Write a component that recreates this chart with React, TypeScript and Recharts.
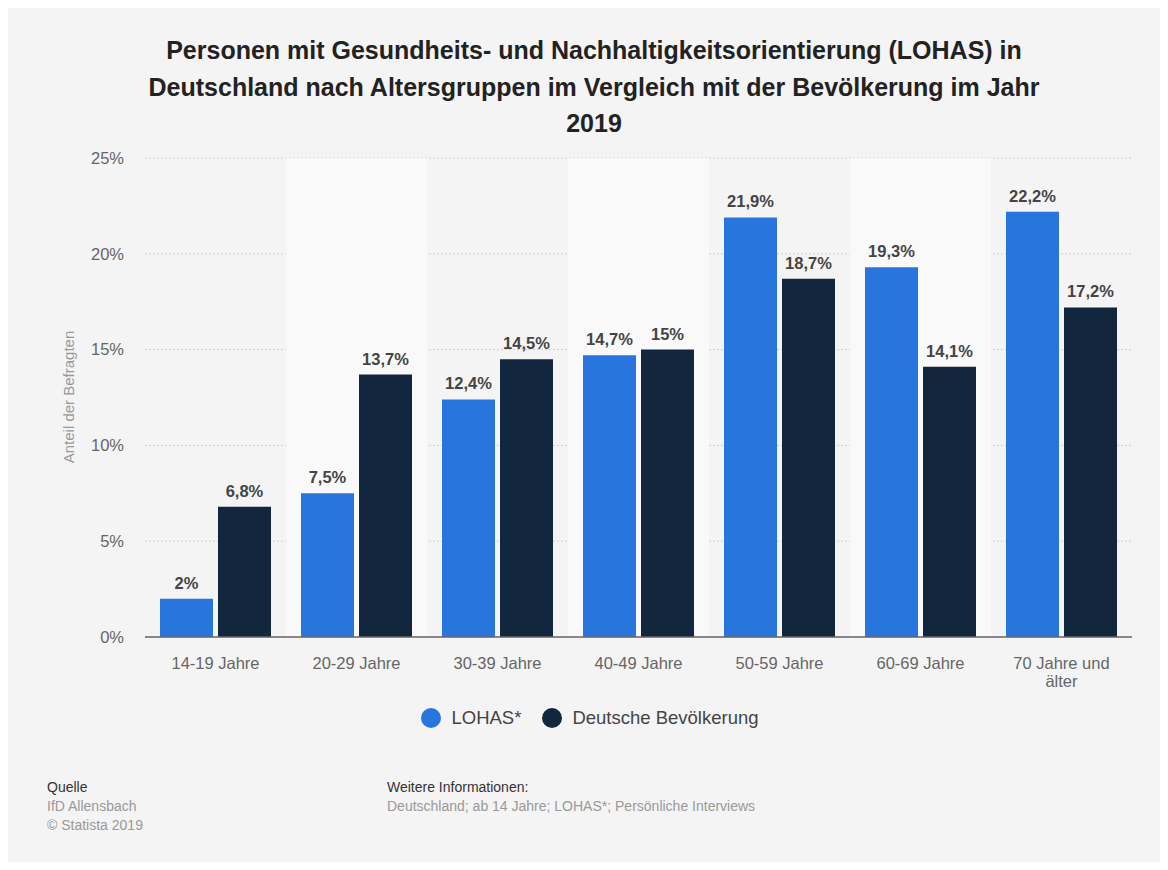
import React from "react";
import {
  BarChart,
  Bar,
  XAxis,
  YAxis,
  CartesianGrid,
  ReferenceArea,
  LabelList,
  Text,
} from "recharts";

const categories = [
  "14-19 Jahre",
  "20-29 Jahre",
  "30-39 Jahre",
  "40-49 Jahre",
  "50-59 Jahre",
  "60-69 Jahre",
  "70 Jahre und älter",
];
const lohas = [2, 7.5, 12.4, 14.7, 21.9, 19.3, 22.2];
const bevoelkerung = [6.8, 13.7, 14.5, 15, 18.7, 14.1, 17.2];
const yTicks = [0, 5, 10, 15, 20, 25];
const shadedCategories = [categories[1], categories[3], categories[5]];

const BLUE = "#2876dd";
const DARK = "#12263d";
const FONT = '"Liberation Sans", Arial, Helvetica, sans-serif';

const data = categories.map((name, i) => ({
  name,
  lohas: lohas[i],
  bev: bevoelkerung[i],
}));

const fmt = (v: any) => String(v).replace(".", ",") + "%";

const XTick = (props: any) => {
  const { x, y, payload } = props;
  return (
    <Text
      x={x}
      y={y}
      width={105}
      textAnchor="middle"
      verticalAnchor="start"
      lineHeight={18}
      fontSize={16.5}
      fill="#666"
      fontFamily={FONT}
    >
      {payload.value}
    </Text>
  );
};

const labelStyle = { fontSize: 16.5, fontWeight: 700, fill: "#444", fontFamily: FONT };

export default function App() {
  return (
    <div
      style={{
        position: "relative",
        width: 1152,
        height: 854,
        background: "#f4f4f4",
        fontFamily: FONT,
      }}
    >
      {/* Title */}
      <div
        style={{
          position: "absolute",
          top: 24,
          left: 10,
          width: 1152,
          textAlign: "center",
          fontWeight: 700,
          fontSize: 25,
          lineHeight: "36.5px",
          color: "#222",
        }}
      >
        Personen mit Gesundheits- und Nachhaltigkeitsorientierung (LOHAS) in
        <br />
        Deutschland nach Altersgruppen im Vergleich mit der Bevölkerung im Jahr
        <br />
        2019
      </div>

      {/* Y axis title */}
      <div
        style={{
          position: "absolute",
          left: 60,
          top: 389,
          transform: "translate(-50%, -50%) rotate(-90deg)",
          whiteSpace: "nowrap",
          fontSize: 15,
          color: "#999",
        }}
      >
        Anteil der Befragten
      </div>

      <div style={{ position: "absolute", left: 0, top: 0 }}>
        <BarChart
          width={1152}
          height={854}
          data={data}
          margin={{ top: 150, right: 28, bottom: 165, left: 77 }}
          barCategoryGap={15}
          barGap={5}
        >
          {shadedCategories.map((c) => (
            <ReferenceArea
              key={c}
              x1={c}
              x2={c}
              y1={0}
              y2={25}
              fill="#f9f9f9"
              fillOpacity={1}
              strokeOpacity={0}
              ifOverflow="visible"
            />
          ))}
          <CartesianGrid
            vertical={false}
            stroke="#cfcfcf"
            strokeDasharray="2 2"
          />
          <XAxis
            dataKey="name"
            height={60}
            axisLine={{ stroke: "#666", strokeWidth: 1.5 }}
            tickLine={false}
            tickSize={0}
            tickMargin={20}
            tick={<XTick />}
            interval={0}
          />
          <YAxis
            width={60}
            domain={[0, 25]}
            ticks={yTicks}
            tickFormatter={(v) => v + "%"}
            axisLine={false}
            tickLine={false}
            tickSize={0}
            tickMargin={21}
            tick={{ fontSize: 16.5, fill: "#666", fontFamily: FONT }}
          />
          <Bar dataKey="lohas" fill={BLUE} isAnimationActive={false}>
            <LabelList
              dataKey="lohas"
              position="top"
              offset={10}
              formatter={fmt}
              style={labelStyle}
            />
          </Bar>
          <Bar dataKey="bev" fill={DARK} isAnimationActive={false}>
            <LabelList
              dataKey="bev"
              position="top"
              offset={10}
              formatter={fmt}
              style={labelStyle}
            />
          </Bar>
        </BarChart>
      </div>

      {/* Legend */}
      <div
        style={{
          position: "absolute",
          top: 700,
          left: 6,
          width: 1152,
          height: 20,
          display: "flex",
          justifyContent: "center",
          alignItems: "center",
          gap: 21,
          fontSize: 18.5,
          color: "#444",
        }}
      >
        {[
          { label: "LOHAS*", color: BLUE },
          { label: "Deutsche Bevölkerung", color: DARK },
        ].map((item) => (
          <div key={item.label} style={{ display: "flex", alignItems: "center", gap: 10 }}>
            <span
              style={{
                width: 20,
                height: 20,
                borderRadius: "50%",
                background: item.color,
                display: "inline-block",
              }}
            />
            <span>{item.label}</span>
          </div>
        ))}
      </div>

      {/* Footer */}
      <div
        style={{
          position: "absolute",
          left: 39,
          top: 770,
          fontSize: 14,
          lineHeight: "19px",
          color: "#999",
        }}
      >
        <div style={{ color: "#333" }}>Quelle</div>
        <div>IfD Allensbach</div>
        <div>© Statista 2019</div>
      </div>
      <div
        style={{
          position: "absolute",
          left: 379,
          top: 770,
          fontSize: 14,
          lineHeight: "19px",
          color: "#999",
        }}
      >
        <div style={{ color: "#333" }}>Weitere Informationen:</div>
        <div>Deutschland; ab 14 Jahre; LOHAS*; Persönliche Interviews</div>
      </div>
    </div>
  );
}
